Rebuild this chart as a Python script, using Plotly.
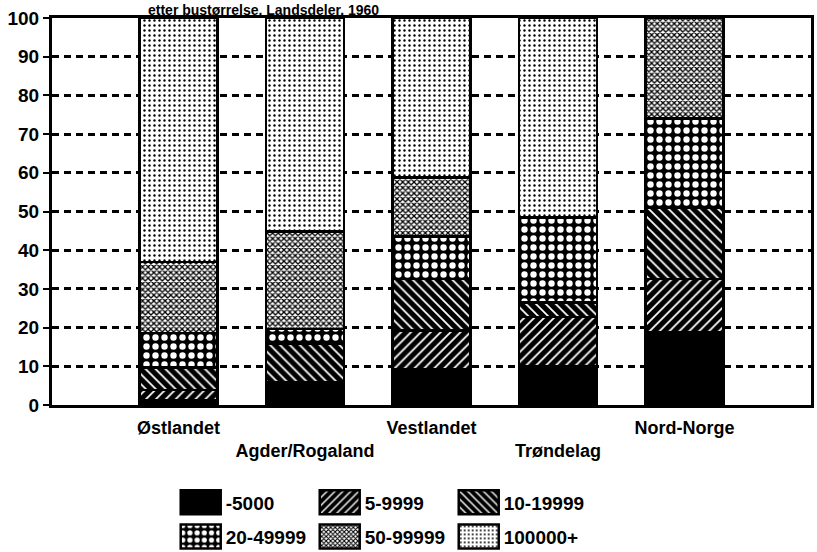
import plotly.graph_objects as go

# ---- data ----
regions = ["Østlandet", "Agder/Rogaland", "Vestlandet", "Trøndelag", "Nord-Norge"]
region_labels = ["Østlandet", "<br>Agder/Rogaland", "Vestlandet", "<br>Trøndelag", "Nord-Norge"]
size_classes = ["-5000", "5-9999", "10-19999", "20-49999", "50-99999", "100000+"]
s_under_5000 = [1.2, 5.8, 9.3, 10.0, 18.7]
s_5000_9999 = [2.7, 0.0, 10.0, 12.8, 13.8]
s_10000_19999 = [5.8, 10.0, 13.3, 3.7, 18.5]
s_20000_49999 = [8.9, 3.9, 10.9, 21.9, 23.0]
s_50000_99999 = [18.3, 25.1, 15.3, 0.0, 26.0]
s_100000_plus = [63.1, 55.2, 41.2, 51.6, 0.0]
series = [s_under_5000, s_5000_9999, s_10000_19999, s_20000_49999, s_50000_99999, s_100000_plus]
y_ticks = [0, 10, 20, 30, 40, 50, 60, 70, 80, 90, 100]
title_text = "etter bustørrelse. Landsdeler. 1960"

# ---- styles ----
patterns = [
    dict(shape="", bgcolor="black", fgcolor="black"),
    dict(shape="/", bgcolor="black", fgcolor="white", size=7, solidity=0.25, fillmode="replace"),
    dict(shape="\\", bgcolor="black", fgcolor="white", size=7, solidity=0.25, fillmode="replace"),
    dict(shape=".", bgcolor="black", fgcolor="white", size=9, solidity=0.4, fillmode="replace"),
    dict(shape="x", bgcolor="white", fgcolor="black", size=4, solidity=0.55, fillmode="replace"),
    dict(shape=".", bgcolor="white", fgcolor="black", size=5, solidity=0.18, fillmode="replace"),
]
base_colors = ["black", "black", "black", "black", "white", "white"]
FONT = "Liberation Sans, Arial, sans-serif"

fig = go.Figure()
xs = list(range(len(regions)))
for i, (name, vals) in enumerate(zip(size_classes, series)):
    fig.add_trace(go.Bar(
        x=xs, y=vals, name=name,
        marker=dict(color=base_colors[i], pattern=patterns[i],
                    line=dict(color="black", width=2.5)),
        legend="legend" if i < 3 else "legend2",
        width=0.62,
    ))

fig.update_layout(
    width=817, height=552,
    margin=dict(l=52, r=6, t=18, b=147, autoexpand=False),
    paper_bgcolor="white", plot_bgcolor="white",
    barmode="stack",
    font=dict(family=FONT, size=18, color="black", weight="bold"),
    showlegend=True,
    legend=dict(orientation="h", x=0.163, xanchor="left", y=-0.252, yanchor="middle",
                itemwidth=40, entrywidth=84, entrywidthmode="pixels",
                font=dict(size=19, family=FONT, weight="bold"), traceorder="normal",
                itemclick=False, bgcolor="rgba(0,0,0,0)"),
    legend2=dict(orientation="h", x=0.163, xanchor="left", y=-0.34, yanchor="middle",
                 itemwidth=40, entrywidth=84, entrywidthmode="pixels",
                 font=dict(size=19, family=FONT, weight="bold"), traceorder="normal",
                 itemclick=False, bgcolor="rgba(0,0,0,0)"),
    xaxis=dict(range=[-1, 5], tickvals=xs, ticktext=region_labels, ticks="",
               showline=True, linecolor="black", linewidth=3, mirror=True,
               showgrid=False, zeroline=False, ticklabelstandoff=4,
               tickfont=dict(size=18, family=FONT, weight="bold")),
    xaxis2=dict(range=[-1, 5], overlaying="x", anchor="y", side="bottom",
                tickvals=[0.5, 1.5, 2.5, 3.5], ticks="outside", ticklen=6, tickwidth=2,
                tickcolor="black", showticklabels=False, showgrid=False, zeroline=False,
                showline=False),
    yaxis=dict(range=[0, 100], tickvals=y_ticks, ticks="outside", ticklen=6, tickwidth=2,
               tickcolor="black", showline=True, linecolor="black", linewidth=3, mirror=True,
               showgrid=True, gridcolor="black", gridwidth=3, griddash="7px,5px",
               zeroline=False, tickfont=dict(size=19, family=FONT, weight="bold")),
    annotations=[dict(text=title_text, xref="paper", yref="paper", x=0.279, y=1.044,
                      xanchor="center", yanchor="top", showarrow=False, borderpad=0,
                      font=dict(size=14, family=FONT, weight="bold"))],
)

post = """
document.documentElement.style.margin = '0';
document.documentElement.style.padding = '0';
document.body.style.margin = '0';
document.body.style.padding = '0';
document.body.style.overflow = 'hidden';
var gd = document.getElementById('{plot_id}');
function fixLegend(){
  document.querySelectorAll('.infolayer g[class^="legend"] g.legendpoints path').forEach(function(p){
    p.setAttribute('d','M20,12H-20V-12H20Z');
  });
}
fixLegend();
gd.on('plotly_afterplot', fixLegend);
"""
fig.write_html("out.html", post_script=post, config={"displayModeBar": False})
